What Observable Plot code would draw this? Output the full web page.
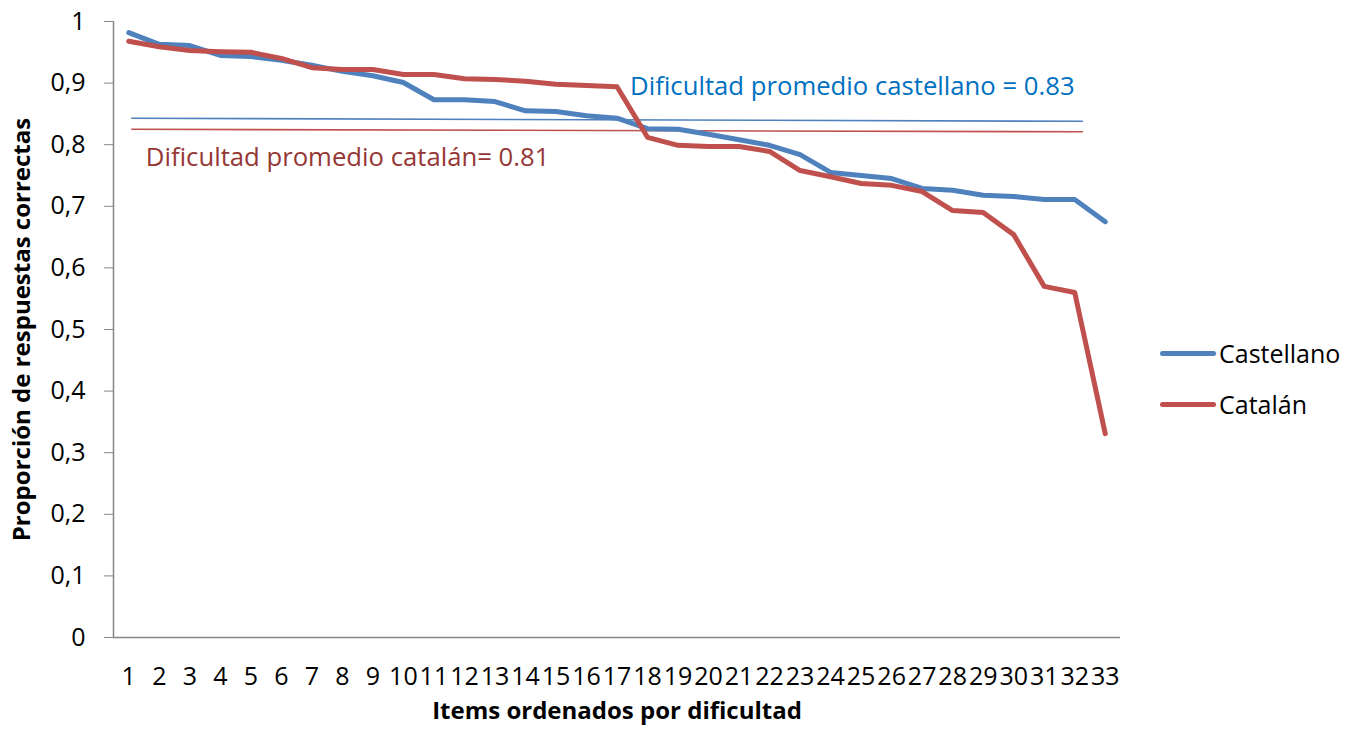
<!DOCTYPE html>
<html>
<head>
<meta charset="utf-8">
<script src="https://cdn.jsdelivr.net/npm/d3@7"></script>
<script src="https://cdn.jsdelivr.net/npm/@observablehq/plot@0.6"></script>
<style>
  html, body { margin: 0; padding: 0; background: #fff; }
  #wrap { position: relative; width: 1348px; height: 734px; font-family: "Open Sans", sans-serif; }
  .legend { position: absolute; left: 1160px; font-size: 25px; color: #000; display: flex; align-items: center; }
  .legend span.sw { display: inline-block; width: 56px; height: 5px; border-radius: 3px; margin-right: 3px; }
</style>
</head>
<body>
<div id="wrap"></div>
<script>
// ---- data ----
const items = d3.range(1, 34);
const castellano = [0.982, 0.963, 0.961, 0.945, 0.943, 0.937, 0.929, 0.919, 0.912, 0.901,
                    0.873, 0.873, 0.870, 0.855, 0.854, 0.847, 0.843, 0.826, 0.825, 0.817,
                    0.808, 0.799, 0.784, 0.755, 0.750, 0.745, 0.729, 0.726, 0.718, 0.716,
                    0.711, 0.711, 0.675];
const catalan = [0.968, 0.959, 0.953, 0.951, 0.950, 0.940, 0.925, 0.922, 0.922, 0.914,
                 0.914, 0.907, 0.906, 0.903, 0.898, 0.896, 0.894, 0.812, 0.799, 0.797,
                 0.797, 0.789, 0.758, 0.748, 0.737, 0.734, 0.724, 0.693, 0.690, 0.654,
                 0.570, 0.560, 0.331];
const seriesNames = ["Castellano", "Catalán"];
// average-difficulty reference lines (start/end as drawn)
const meanLineX = [1.1, 32.25];
const meanCastellano = [0.843, 0.838];
const meanCatalan = [0.825, 0.821];
const meanLabels = ["Dificultad promedio castellano = 0.83", "Dificultad promedio catalán= 0.81"];
const yTicks = [0, 0.1, 0.2, 0.3, 0.4, 0.5, 0.6, 0.7, 0.8, 0.9, 1];
const yTickLabels = ["0", "0,1", "0,2", "0,3", "0,4", "0,5", "0,6", "0,7", "0,8", "0,9", "1"];
const xTitle = "Items ordenados por dificultad";
const yTitle = "Proporción de respuestas correctas";

const colors = {Castellano: "#4F81BD", "Catalán": "#C0504D"};
const labelColors = ["#0070C0", "#953735"];

const rows = [];
items.forEach((it, i) => {
  rows.push({item: it, value: castellano[i], serie: "Castellano"});
  rows.push({item: it, value: catalan[i], serie: "Catalán"});
});
const meanRows = [];
meanLineX.forEach((x, i) => {
  meanRows.push({x, value: meanCastellano[i], serie: "Castellano"});
  meanRows.push({x, value: meanCatalan[i], serie: "Catalán"});
});

const chart = Plot.plot({
  width: 1348,
  height: 734,
  marginLeft: 113,
  marginRight: 228,
  marginTop: 21,
  marginBottom: 97,
  style: {fontFamily: "'Open Sans', sans-serif", fontSize: "25px", color: "#000", background: "#fff", overflow: "visible"},
  x: {domain: [0.5, 33.5]},
  y: {domain: [0, 1]},
  marks: [
    Plot.ruleY([0], {stroke: "#868686", strokeWidth: 1.5}),
    Plot.ruleX([0.5], {stroke: "#868686", strokeWidth: 1.5}),
    Plot.axisY({ticks: yTicks, tickFormat: (d) => yTickLabels[yTicks.indexOf(d)], tickSize: 9, tickPadding: 19,
                stroke: "#868686", label: null, fill: "#000"}),
    Plot.axisX({ticks: items, tickFormat: d => String(d), tickSize: 0, tickPadding: 30, label: null, fill: "#000"}),
    Plot.line(meanRows, {x: "x", y: "value", z: "serie", stroke: d => colors[d.serie], strokeWidth: 1.6}),
    Plot.line(rows, {x: "item", y: "value", z: "serie", stroke: d => colors[d.serie], strokeWidth: 5,
                     strokeLinejoin: "round", strokeLinecap: "round"}),
    Plot.text([meanLabels[0]], {x: 17.43, y: 0.894, textAnchor: "start", fill: labelColors[0], fontSize: 25.7}),
    Plot.text([meanLabels[1]], {x: 1.56, y: 0.779, textAnchor: "start", fill: labelColors[1], fontSize: 25.7}),
    Plot.text([yTitle], {frameAnchor: "left", textAnchor: "middle", rotate: -90, dx: -91, fontWeight: "bold", fontSize: 24, fill: "#000"}),
    Plot.text([xTitle], {frameAnchor: "bottom", textAnchor: "middle", dy: 81, fontWeight: "bold", fontSize: 24, fill: "#000"})
  ]
});

const wrap = document.getElementById("wrap");
wrap.appendChild(chart);
[["Castellano", 353], ["Catalán", 404]].forEach(([name, y]) => {
  const d = document.createElement("div");
  d.className = "legend";
  d.style.top = (y - 17) + "px";
  d.innerHTML = `<span class="sw" style="background:${colors[name]}"></span><span>${name}</span>`;
  wrap.appendChild(d);
});
</script>
</body>
</html>
